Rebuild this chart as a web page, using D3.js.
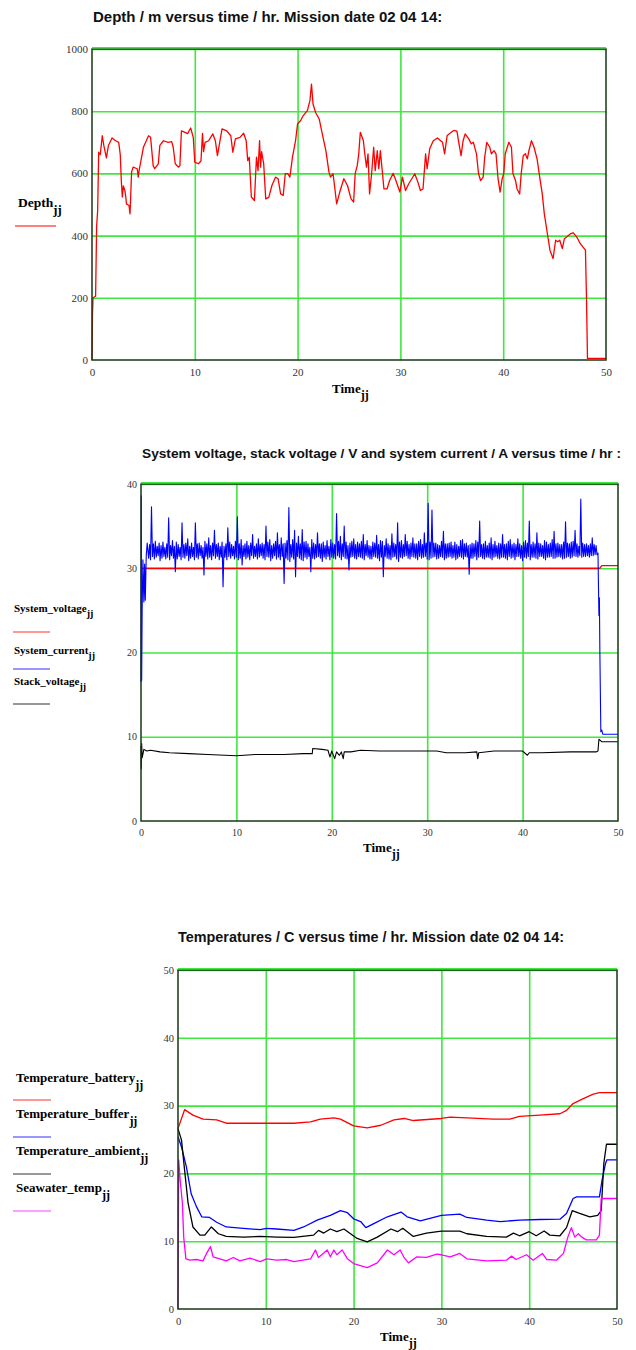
<!DOCTYPE html>
<html><head><meta charset="utf-8">
<script src="https://cdn.jsdelivr.net/npm/d3@7"></script>
<style>body{margin:0;background:#fff}</style>
</head><body>
<svg id="c" width="636" height="1350" xmlns="http://www.w3.org/2000/svg"></svg>
<script>
// ---------- DATA ----------
const timeTicks = [0, 10, 20, 30, 40, 50];
const depthTicks = [0, 200, 400, 600, 800, 1000];
const voltTicks = [0, 10, 20, 30, 40];
const tempTicks = [0, 10, 20, 30, 40, 50];

const depthTime = [0,0.05,0.1,0.35,0.45,0.55,0.65,0.8,1.0,1.15,1.4,1.6,1.95,2.3,2.6,2.75,2.85,2.95,3.05,3.2,3.3,3.35,3.6,3.7,3.85,4.0,4.4,4.5,4.6,5.0,5.5,5.7,5.95,6.1,6.45,6.6,6.95,7.4,7.75,7.9,8.1,8.4,8.55,8.7,9.05,9.3,9.6,9.85,10.0,10.35,10.6,10.75,10.85,11.0,11.35,11.75,12.0,12.2,12.65,13.1,13.5,13.7,13.95,14.4,14.75,15.0,15.15,15.3,15.5,15.8,16.0,16.15,16.3,16.4,16.5,16.7,16.9,17.2,17.5,17.85,18.1,18.35,18.6,18.8,19.05,19.25,19.5,19.8,20.0,20.3,20.55,20.95,21.2,21.35,21.5,21.75,22.1,22.4,22.75,23.05,23.2,23.45,23.8,24.1,24.5,24.85,25.2,25.45,25.6,25.8,25.95,26.1,26.4,26.5,26.7,26.85,27.0,27.2,27.4,27.55,27.75,27.9,28.05,28.2,28.4,28.7,28.95,29.3,29.5,29.95,30.2,30.5,30.8,31.4,31.7,31.95,32.2,32.45,32.6,32.85,33.2,33.6,34.1,34.3,34.55,34.95,35.2,35.5,35.7,35.9,36.1,36.3,36.65,36.9,37.1,37.4,37.6,37.8,38.05,38.2,38.4,38.7,38.85,39.1,39.3,39.5,39.7,39.9,40.05,40.2,40.55,40.8,40.95,41.2,41.35,41.6,41.75,41.95,42.15,42.35,42.5,42.75,43.0,43.3,43.55,43.8,44.0,44.3,44.55,44.85,45.1,45.3,45.5,45.75,45.95,46.2,46.55,46.8,47.05,47.25,47.5,48.0,48.1,48.2,50];
const depthValues = [0,150,200,205,430,480,668,660,721,690,650,690,714,705,700,660,577,524,560,545,520,502,497,470,604,620,615,588,612,684,721,716,625,615,631,690,705,700,702,684,631,620,625,737,732,728,746,716,636,631,640,729,670,700,705,727,705,657,743,737,721,668,711,716,729,705,641,652,524,513,652,609,705,620,670,631,518,523,561,588,583,534,529,599,599,588,652,705,759,770,786,802,834,887,823,796,775,727,673,604,588,599,502,540,583,561,518,508,599,625,663,732,705,673,620,663,534,599,684,609,673,615,673,620,550,550,577,600,583,540,588,545,566,599,572,545,550,663,615,679,705,714,700,663,722,732,738,736,695,657,705,727,711,695,700,663,599,577,588,652,700,684,663,673,663,583,540,583,599,663,700,684,599,577,550,534,599,657,663,647,673,705,684,646,588,534,470,406,353,326,385,380,385,358,390,396,406,409,400,390,374,353,203,5,5];

const sysVoltTime = [0, 48.1, 48.3, 50];
const sysVoltValues = [30.0, 30.0, 30.3, 30.3];

const currentHeadTime = [0, 0.03, 0.07, 0.12, 0.2, 0.3, 0.38, 0.45, 0.55, 0.65];
const currentHeadValues = [16.5, 38.6, 16.7, 25.0, 31.0, 26.0, 30.5, 26.2, 31.5, 33.0];
// noisy current: lower-side samples every 0.2 h from 0.8 h, upper-side samples every 0.2 h from 0.9 h
const currentLowStart = 0.8, currentHighStart = 0.9, currentStep = 0.2;
const currentLow = [
31.2,31.0,31.4,31.1,31.3,31.5,30.9,31.2,31.4,31.1,
31.3,31.0,31.5,31.2,29.6,31.1,31.4,31.0,31.3,31.2,
31.5,30.9,31.2,31.4,31.0,31.3,31.1,31.5,31.2,29.2,
31.4,31.1,31.3,31.0,31.5,31.2,31.4,31.0,31.3,27.8,
31.3,31.0,31.4,31.2,31.5,31.1,31.3,31.0,31.2,30.4,
31.4,31.1,31.3,31.0,31.5,31.2,31.4,31.1,31.3,31.5,
31.2,31.0,31.4,31.3,30.9,31.2,31.5,31.1,31.3,31.0,
31.4,28.2,31.2,31.0,30.8,31.3,31.1,29.0,31.4,31.2,
31.0,30.9,31.3,31.1,31.4,29.6,31.2,31.1,31.3,31.4,
31.2,30.8,31.3,31.1,31.4,31.0,31.3,31.2,31.1,31.5,
31.3,31.0,31.4,31.2,31.1,29.8,31.3,31.4,31.2,31.1,
31.4,31.3,31.2,31.0,31.5,31.3,31.1,31.1,31.4,31.3,
31.2,30.9,31.3,29.0,31.4,31.2,31.1,31.0,31.3,31.4,
31.1,30.8,31.3,31.2,31.4,31.5,31.2,31.1,31.4,31.3,
31.2,31.0,31.4,31.2,31.3,31.4,31.1,31.0,31.2,31.3,
31.4,31.1,31.2,31.4,31.3,31.0,31.2,31.3,31.4,31.2,
31.3,31.0,31.2,31.4,31.3,31.1,31.4,31.3,29.3,31.2,
31.2,31.4,31.0,31.3,31.4,31.2,31.1,31.3,31.3,31.2,
31.0,31.3,31.4,31.2,31.1,31.3,31.3,31.2,31.0,31.4,
31.2,31.3,31.0,31.4,31.4,31.2,30.9,31.3,31.2,31.4,
31.0,31.3,31.3,31.2,31.1,31.4,31.4,31.2,31.0,31.3,
31.3,31.4,31.2,31.2,31.3,31.4,31.3,31.1,31.2,31.3,
31.4,31.2,31.3,31.5,31.4,31.3,31.5,31.3,31.4,31.4,
31.5,31.3,31.5,31.5,31.6,31.6];
const currentHigh = [
32.8,37.3,32.9,33.2,32.6,33.0,32.7,33.1,32.5,32.9,
36.0,32.7,33.3,32.6,33.1,32.8,32.5,35.4,32.8,33.0,
33.5,32.6,33.0,32.5,35.4,32.9,33.0,32.7,32.5,33.2,
32.9,33.6,32.7,33.0,34.5,32.8,33.0,32.6,33.1,32.6,
32.9,34.8,33.1,32.8,32.6,33.2,36.1,32.9,33.4,32.7,
32.9,33.2,32.7,33.0,34.0,32.6,32.9,33.5,32.8,33.0,
32.8,35.0,33.1,33.4,32.7,32.9,33.2,34.2,32.8,33.6,
32.9,33.0,33.3,37.2,32.8,33.4,34.5,33.0,33.8,32.9,
34.6,33.1,33.2,32.9,32.5,33.4,33.0,32.8,34.2,32.9,
32.9,33.1,32.7,33.3,32.6,33.4,33.0,32.8,36.5,33.2,
33.8,32.9,35.0,33.1,32.7,33.0,33.2,33.5,32.8,33.1,
32.9,33.2,34.0,32.8,33.3,32.7,32.6,33.1,33.0,33.9,
32.8,33.3,33.2,32.7,33.5,32.9,32.7,34.1,33.0,32.8,
35.4,33.1,33.3,32.8,34.0,33.2,32.8,33.0,33.6,32.9,
32.9,33.2,33.4,32.8,34.2,33.0,37.7,33.1,36.9,33.0,
33.0,32.8,32.7,33.2,34.4,32.9,32.9,33.0,33.1,32.7,
33.1,32.8,32.6,33.3,33.4,32.9,33.0,32.7,32.8,33.0,
32.9,33.3,33.1,35.6,32.8,32.9,33.2,32.7,33.0,33.6,
32.8,33.2,32.7,33.0,32.9,34.0,32.8,32.9,33.2,33.4,
32.8,33.0,32.8,33.5,32.9,32.7,33.1,33.3,33.0,35.6,
32.8,33.1,32.9,34.2,33.0,32.9,32.7,33.3,33.1,32.8,
33.0,33.4,34.4,32.9,33.0,32.8,32.8,33.1,35.5,33.0,
32.9,33.1,33.2,34.5,32.9,32.6,38.2,33.0,32.8,32.9,
32.7,32.9,33.6,32.8,32.7];
const currentTailTime = [47.9, 48.0, 48.05, 48.1, 48.2, 48.3, 48.4, 50];
const currentTailValues = [31.8, 24.4, 26.5, 20.0, 10.6, 10.8, 10.3, 10.3];

const stackTime = [0,0.03,0.07,0.12,0.3,0.6,1,2,3,5,7,10,12,15,17,17.95,18.0,19.0,19.6,19.8,20.0,20.3,20.5,20.8,21.0,21.2,21.3,22,23,25,28,30,31,32,34,35.2,35.3,35.4,37,38,40,40.5,40.7,42,45,47.7,47.9,48.0,48.2,48.3,50];
const stackValues = [8.9,6.2,9.2,7.5,8.5,8.3,8.4,8.2,8.1,8.0,7.9,7.75,7.9,7.9,8.0,8.0,8.6,8.5,8.4,7.6,8.3,7.4,8.2,7.8,8.2,7.4,8.2,8.2,8.4,8.3,8.3,8.3,8.3,8.1,8.1,8.2,7.4,8.1,8.3,8.3,8.3,7.8,8.1,8.1,8.2,8.2,8.3,9.7,9.5,9.4,9.4];

const batteryTime = [0,0.75,1.7,2.85,4.4,5.5,9.35,13.2,15.1,16.2,17.75,18.5,20,21.55,23.1,24.6,25.75,26.8,30,31,32.9,35.9,37.8,38.9,41.2,43.5,44.25,45,46.1,47.3,48,50];
const batteryValues = [26.6,29.4,28.6,28.0,27.9,27.4,27.4,27.4,27.6,28.0,28.2,28.0,27.0,26.7,27.1,27.9,28.1,27.8,28.1,28.3,28.2,28.0,28.0,28.4,28.6,28.8,29.3,30.3,31.0,31.7,31.9,31.9];

const bufferTime = [0,0.4,0.95,1.5,2.1,2.7,3.6,4.4,5.5,7.45,9.35,10.1,11.25,13.2,14.3,15.85,17.35,18.5,19.3,20,20.8,21.4,22.3,23.85,25.4,26.1,27.6,30,32.1,32.9,35.15,36.7,38.9,41.2,43.5,44.25,45,45.4,48.0,48.3,48.7,48.85,50];
const bufferValues = [25.4,23.9,21.0,17.0,15.1,13.6,13.5,12.8,12.1,11.9,11.7,11.9,11.8,11.6,12.1,13.1,13.8,14.5,14.2,13.3,12.9,12.0,12.6,13.6,14.3,13.6,13.0,13.8,14.0,13.5,13.1,12.9,13.1,13.2,13.25,14.1,16.3,16.55,16.55,19.0,21.5,22.0,22.0];

const ambientTime = [0,0.4,0.75,1.15,1.7,2.5,3.05,3.8,4.6,5.5,7.45,9.35,11.25,13.2,15.45,16.0,16.6,17.35,18.1,18.9,19.65,20.4,21.55,22.7,24.25,25.0,25.6,26.8,28.3,30,32.1,32.9,35.15,37.4,38.2,38.9,40,40.8,41.7,42.35,43.5,44.25,44.9,45.75,46.9,47.8,48.2,48.5,48.8,50];
const ambientValues = [26.6,24.9,20.5,15.6,12.1,10.9,10.9,12.1,11.1,10.7,10.6,10.7,10.6,10.55,10.9,11.6,11.2,11.8,11.4,11.8,11.1,10.4,9.9,10.6,11.8,11.4,11.9,10.7,11.2,11.5,11.5,11.1,10.7,10.6,11.2,10.8,11.4,10.8,11.5,10.9,10.8,12.0,14.5,14.1,13.6,13.8,14.5,21.5,24.3,24.3];

const seawaterTime = [0,0.08,0.25,0.5,0.65,0.9,1.35,2.1,2.85,3.25,3.7,4.0,4.75,5.5,6.3,7.05,8.2,9.35,10.1,11.25,12.4,13.2,15.1,15.65,16.0,17.0,17.35,17.75,18.1,18.7,19.3,20,21.55,22.7,23.85,24.6,25.3,25.7,26.25,27.2,28.3,29.5,30,31,32.1,32.9,35.15,37.4,38,38.5,39.7,40.45,41.5,42,43.1,43.9,44.4,44.8,45.2,45.6,46,46.5,47.65,48.0,48.2,50];
const seawaterValues = [0,22.0,19.0,15.6,10.6,7.4,7.2,7.3,7.1,8.2,9.2,7.7,7.4,7.1,7.6,7.1,7.5,7.0,7.4,7.2,7.3,7.0,7.4,8.7,7.6,8.7,7.7,8.7,8.0,8.7,7.4,6.7,6.1,6.8,8.7,8.0,8.7,7.7,6.8,7.7,7.6,8.1,8.0,7.7,8.2,7.4,7.1,7.2,7.8,7.3,8.0,7.2,8.2,7.3,7.2,8.2,10.6,12.0,10.6,11.1,10.6,10.2,10.2,10.9,16.3,16.3];

// ---------- DRAWING ----------
const svg = d3.select("#c");
const zip = (t, v) => t.map((d, i) => [d, v[i]]);
const GRID = "#3ee83e", BORDER = "#163816";
const SERIF = "'Liberation Serif','Times New Roman',serif";
const SANS = "'Liberation Sans',Arial,sans-serif";

function subLabel(g, x, y, main, sub, size, subSize, subDy) {
  const t = g.append("text").attr("x", x).attr("y", y)
    .attr("font-family", SERIF).attr("font-weight", "bold").attr("font-size", size).attr("fill", "#000");
  t.append("tspan").text(main);
  t.append("tspan").attr("dy", subDy).attr("font-size", subSize).text(sub);
}

function chart(cfg) {
  const g = svg.append("g");
  const x = d3.scaleLinear().domain([0, 50]).range([cfg.left, cfg.right]);
  const y = d3.scaleLinear().domain(cfg.yDomain).range([cfg.bottom, cfg.top]);
  g.append("text").attr("x", cfg.titleX).attr("y", cfg.titleY)
    .attr("font-family", SANS).attr("font-weight", "bold").attr("font-size", cfg.titleSize)
    .attr("fill", "#111").text(cfg.title);
  const gx = g.append("g").attr("transform", `translate(0,${cfg.bottom})`)
    .call(d3.axisBottom(x).tickValues(timeTicks.slice(1, -1)).tickSize(-(cfg.bottom - cfg.top)).tickFormat(""));
  const gy = g.append("g").attr("transform", `translate(${cfg.left},0)`)
    .call(d3.axisLeft(y).tickValues(cfg.yTicks.slice(1)).tickSize(-(cfg.right - cfg.left)).tickFormat(""));
  [gx, gy].forEach(a => {
    a.select(".domain").remove();
    a.selectAll("line").attr("stroke", GRID).attr("stroke-width", 1.6);
  });
  const lx = g.append("g").attr("transform", `translate(0,${cfg.bottom})`)
    .call(d3.axisBottom(x).tickValues(timeTicks).tickSize(0).tickPadding(cfg.xPad).tickFormat(d3.format("d")));
  const ly = g.append("g").attr("transform", `translate(${cfg.left},0)`)
    .call(d3.axisLeft(y).tickValues(cfg.yTicks).tickSize(0).tickPadding(4).tickFormat(d3.format("d")));
  [lx, ly].forEach(a => {
    a.select(".domain").remove();
    a.selectAll("text").attr("font-family", SERIF).attr("font-size", cfg.tickSize).attr("fill", "#333");
  });
  cfg.series.forEach(s => {
    g.append("path").datum(s.data).attr("fill", "none").attr("stroke", s.color)
      .attr("stroke-width", s.width || 1.3).attr("stroke-linejoin", "round")
      .attr("d", d3.line().x(d => x(d[0])).y(d => y(d[1])));
  });
  g.append("rect").attr("x", cfg.left).attr("y", cfg.top)
    .attr("width", cfg.right - cfg.left).attr("height", cfg.bottom - cfg.top)
    .attr("fill", "none").attr("stroke", BORDER).attr("stroke-width", 1.5);
  g.append("line").attr("x1", cfg.left).attr("x2", cfg.right).attr("y1", cfg.top - 1.3).attr("y2", cfg.top - 1.3)
    .attr("stroke", GRID).attr("stroke-width", 1.4);
  subLabel(g, cfg.xLabelX, cfg.xLabelY, "Time", "jj", 13, 12, 6);
  cfg.legend.forEach(l => {
    subLabel(g, l.x, l.y, l.name, "jj", cfg.legSize, cfg.legSize - 1, cfg.legSubDy);
    g.append("line").attr("x1", l.lx1).attr("x2", l.lx2).attr("y1", l.ly).attr("y2", l.ly)
      .attr("stroke", l.color).attr("stroke-width", 1.2);
  });
}

// merge the interleaved lower/upper current samples in time order
const currentSamples = [];
currentLow.forEach((v, i) => {
  currentSamples.push([currentLowStart + i * currentStep, v]);
  if (i < currentHigh.length) currentSamples.push([currentHighStart + i * currentStep, currentHigh[i]]);
});

chart({
  left: 92, right: 606, top: 49, bottom: 360, yDomain: [0, 1000], yTicks: depthTicks,
  title: "Depth / m versus time / hr. Mission date 02 04 14:", titleX: 93, titleY: 22, titleSize: 15,
  tickSize: 11, xPad: 8, xLabelX: 332, xLabelY: 393, legSize: 13.5, legSubDy: 7,
  series: [{ data: zip(depthTime, depthValues), color: "#ff0000", width: 1.3 }],
  legend: [{ name: "Depth", x: 18, y: 207, lx1: 15, lx2: 56, ly: 226, color: "#ff0000" }]
});

chart({
  left: 141, right: 618, top: 484, bottom: 821, yDomain: [0, 40], yTicks: voltTicks,
  title: "System voltage, stack voltage / V and system current / A versus time / hr :", titleX: 142, titleY: 458, titleSize: 13.7,
  tickSize: 10, xPad: 8, xLabelX: 363, xLabelY: 852, legSize: 11, legSubDy: 5,
  series: [
    { data: zip(sysVoltTime, sysVoltValues), color: "#ff0000", width: 1.3 },
    { data: zip(currentHeadTime, currentHeadValues).concat(currentSamples)
        .concat(zip(currentTailTime, currentTailValues)), color: "#0000ff", width: 1.1 },
    { data: zip(stackTime, stackValues), color: "#000000", width: 1.1 }
  ],
  legend: [
    { name: "System_voltage", x: 14, y: 612, lx1: 13, lx2: 50, ly: 632, color: "#ff3030" },
    { name: "System_current", x: 14, y: 654, lx1: 13, lx2: 50, ly: 669, color: "#3030ff" },
    { name: "Stack_voltage", x: 14, y: 685, lx1: 13, lx2: 50, ly: 704, color: "#333333" }
  ]
});

chart({
  left: 178, right: 617, top: 970, bottom: 1309, yDomain: [0, 50], yTicks: tempTicks,
  title: "Temperatures / C versus time / hr. Mission date 02 04 14:", titleX: 178, titleY: 942, titleSize: 14.4,
  tickSize: 10.5, xPad: 9, xLabelX: 380, xLabelY: 1341, legSize: 13, legSubDy: 7,
  series: [
    { data: zip(batteryTime, batteryValues), color: "#ff0000" },
    { data: zip(bufferTime, bufferValues), color: "#0000ff" },
    { data: zip(ambientTime, ambientValues), color: "#000000" },
    { data: zip(seawaterTime, seawaterValues), color: "#ff00ff" }
  ],
  legend: [
    { name: "Temperature_battery", x: 16, y: 1082, lx1: 13, lx2: 51, ly: 1100, color: "#ff3030" },
    { name: "Temperature_buffer", x: 16, y: 1118, lx1: 13, lx2: 51, ly: 1137, color: "#3030ff" },
    { name: "Temperature_ambient", x: 16, y: 1155, lx1: 13, lx2: 51, ly: 1174, color: "#333333" },
    { name: "Seawater_temp", x: 16, y: 1192, lx1: 13, lx2: 51, ly: 1211, color: "#ff40ff" }
  ]
});
</script>
</body></html>
